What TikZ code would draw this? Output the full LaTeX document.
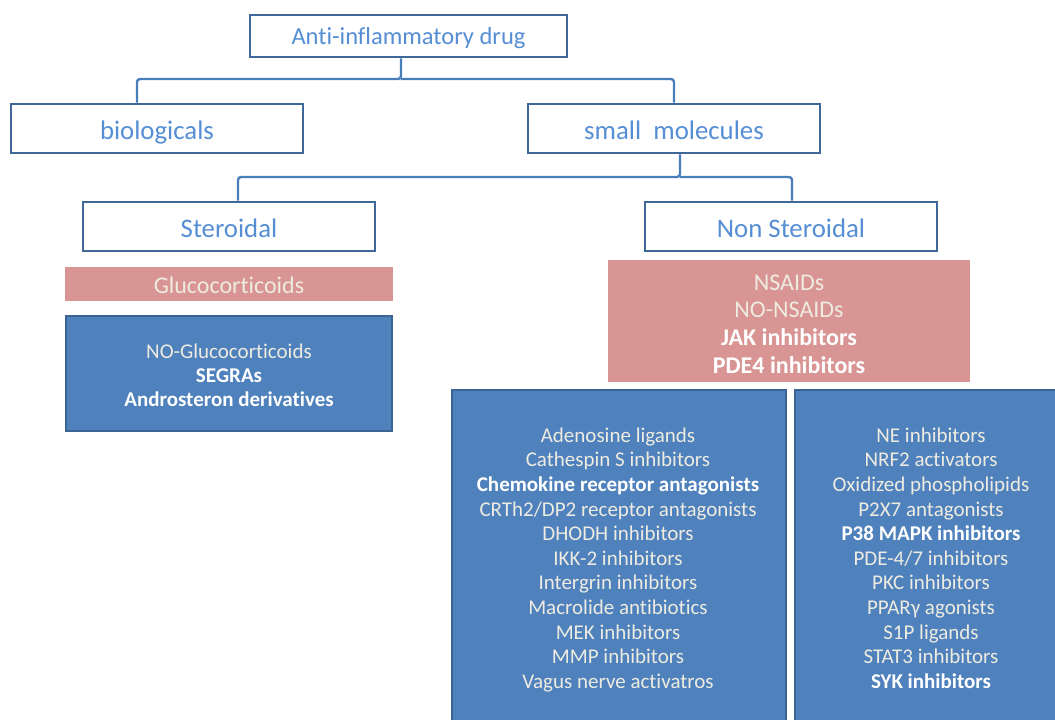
\documentclass[tikz,border=0pt]{standalone}
\usepackage{fontspec}
\setmainfont{Carlito}[Ligatures=NoCommon]
\definecolor{hdrborder}{HTML}{3F6797}
\definecolor{hdrtext}{HTML}{558ED5}
\definecolor{conn}{HTML}{4A7EBB}
\definecolor{pinkfill}{HTML}{D99594}
\definecolor{bluefill}{HTML}{4F81BD}
\definecolor{blueborder}{HTML}{3A6494}
\definecolor{beige}{HTML}{EEECE1}
\tikzset{
  hdr/.style={draw=hdrborder, line width=2.6pt, fill=white, inner sep=0pt,
    minimum width=292pt, minimum height=49pt},
  hdrtxt/.style={text=hdrtext, font=\fontsize{26.8}{30}\selectfont, inner sep=0pt, anchor=base},
  pinkbox/.style={fill=pinkfill, draw=none, text=beige, inner sep=0pt},
  bluebox/.style={fill=bluefill, draw=blueborder, line width=2pt, inner sep=0pt},
  conn/.style={draw=conn, line width=2.4pt, rounded corners=3pt},
  listtext/.style={text=beige, align=center, inner sep=0pt},
}
\begin{document}
\begin{tikzpicture}[x=1pt,y=-1pt]
\useasboundingbox (0,0) rectangle (1055,720);
\clip (0,0) rectangle (1055,720);
% header boxes
\node[hdr, minimum width=317pt, minimum height=42pt] (anti) at (408.5,36) {};
\node[hdr] (bio) at (157,128.5) {};
\node[hdr] (small) at (674,128.5) {};
\node[hdr] (ster) at (229,226.5) {};
\node[hdr] (nonster) at (791,226.5) {};
% connectors
\coordinate (j1) at (401,79);
\coordinate (j2) at (680,177);
\draw[conn] (anti.south -| j1) -- (j1) -| ([xshift=-20pt]bio.north);
\draw[conn] (j1) -| (small.north);
\draw[conn] (small.south -| j2) -- (j2) -| ([xshift=9pt]ster.north);
\draw[conn] (j2) -| ([xshift=1pt]nonster.north);
% header texts
\node[hdrtxt, font=\fontsize{24.5}{28}\selectfont] (antitxt) at ([yshift=-8.5pt]anti.center) {Anti-inflammatory drug};
\node[hdrtxt] (biotxt) at ([yshift=-10.5pt]bio.center) {biologicals};
\node[hdrtxt] (smalltxt) at ([yshift=-10.5pt]small.center) {small\ \ molecules};
\node[hdrtxt] (stertxt) at ([yshift=-10.5pt]ster.center) {Steroidal};
\node[hdrtxt] (nonstertxt) at ([yshift=-10.5pt]nonster.center) {Non Steroidal};
% pink boxes
\node[pinkbox, minimum width=328pt, minimum height=34pt] (gluco) at (229,284) {};
\node[listtext, font=\fontsize{24}{28}\selectfont] (glucotxt) at ([yshift=-1.5pt]gluco.center) {Glucocorticoids};
\node[pinkbox, minimum width=362pt, minimum height=122pt] (nsaids) at (789,321) {};
\node[listtext, font=\fontsize{24}{27.7}\selectfont] (nsaidstext) at ([yshift=-3pt]nsaids.center)
  {NSAIDs\\NO-NSAIDs\\\textcolor{white}{\textbf{JAK inhibitors}}\\\textcolor{white}{\textbf{PDE4 inhibitors}}};
% blue boxes
\node[bluebox, minimum width=326pt, minimum height=115pt] (leftblue) at (229,373.5) {};
\node[listtext, font=\fontsize{21}{24}\selectfont] (lefttext) at ([yshift=-1.5pt]leftblue.center)
  {NO-Glucocorticoids\\\textcolor{white}{\textbf{SEGRAs}}\\\textcolor{white}{\textbf{Androsteron derivatives}}};
\node[bluebox, minimum width=334pt, minimum height=350pt, anchor=north west] (midblue) at (451,389) {};
\node[listtext, font=\fontsize{21}{24.6}\selectfont, anchor=north] (midtext) at (618,427.5)
  {Adenosine ligands\\Cathespin S inhibitors\\\textcolor{white}{\textbf{Chemokine receptor antagonists}}\\CRTh2/DP2 receptor antagonists\\DHODH inhibitors\\IKK-2 inhibitors\\Intergrin inhibitors\\Macrolide antibiotics\\MEK inhibitors\\MMP inhibitors\\Vagus nerve activatros};
\node[bluebox, minimum width=280pt, minimum height=350pt, anchor=north west] (rightblue) at (794,389) {};
\node[listtext, font=\fontsize{21}{24.6}\selectfont, anchor=north] (righttext) at (931,427.5)
  {NE inhibitors\\NRF2 activators\\Oxidized phospholipids\\P2X7 antagonists\\\textcolor{white}{\textbf{P38 MAPK inhibitors}}\\PDE-4/7 inhibitors\\PKC inhibitors\\PPARγ agonists\\S1P ligands\\STAT3 inhibitors\\\textcolor{white}{\textbf{SYK inhibitors}}};
\end{tikzpicture}
\end{document}
